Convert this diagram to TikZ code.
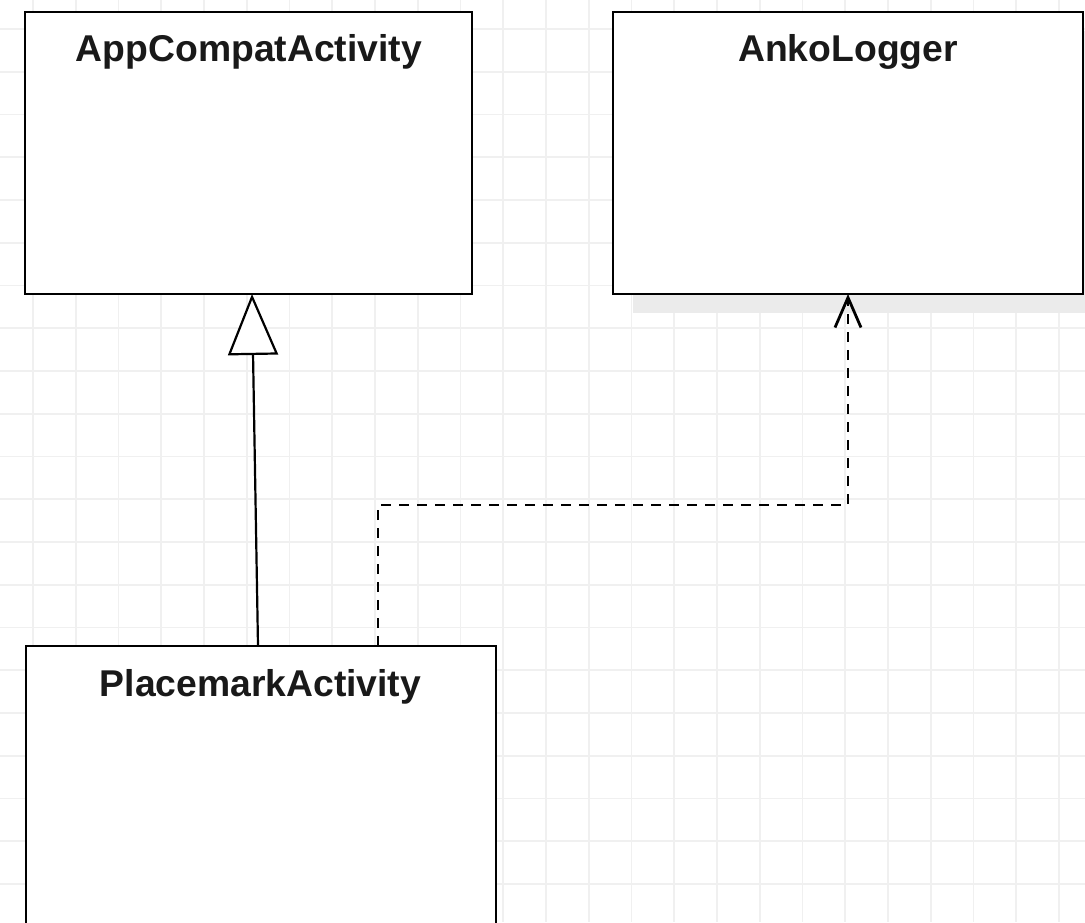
\documentclass[tikz,border=0pt]{standalone}
\usepackage{fontspec}
\setmainfont{Liberation Sans}
\usetikzlibrary{arrows.meta, calc, shadows}
\tikzset{%
    grd/.style={line width = 1.6pt, color=black!6},
    cls/.style={rectangle, draw, fill=white, line width = 2.4pt, inner sep=0pt, outer sep=0pt},
    ttl/.style={anchor=base, inner sep=0pt, font=\bfseries\fontsize{37.3}{45}\selectfont, text=black!90},
    inh/.style={line width = 2.2pt, -{Triangle[length=61pt, width=50pt, fill=white]}},
    dep/.style={line width = 2.8pt, dash pattern=on 10pt off 8pt, -{Straight Barb[length=30pt, width=26pt]}},
}
\begin{document}
\begin{tikzpicture}[x=1pt, y=-1pt]
    \clip (0,0) rectangle (1085,922);
    \fill[white] (0,0) rectangle (1085,922);
    \foreach \gx in {0,...,24} \draw[grd] (33+42.75*\gx,0) -- ++(0,922);
    \foreach \gy in {0,...,20} \draw[grd] (0,29+42.75*\gy) -- ++(1085,0);
    \node[cls, minimum width=447pt, minimum height=282pt] (app) at (248.5,153) {};
    \node[cls, minimum width=470pt, minimum height=282pt,
          drop shadow={shadow xshift=20pt, shadow yshift=-19pt, fill=black!8, opacity=1}] (anko) at (848,153) {};
    \node[cls, minimum width=470pt, minimum height=354pt] (place) at (261,823) {};
    \node[ttl] (appT) at (249,61) {AppCompatActivity};
    \node[ttl] (ankoT) at (848,61) {AnkoLogger};
    \node[ttl] (placeT) at (260.5,696) {PlacemarkActivity};
    \coordinate (bend) at (848,505);
    \draw [inh] ([xshift=-3pt]place.north) -- ([xshift=3.5pt]app.south);
    \draw [dep] ([xshift=117pt]place.north) |- (bend) -- (anko.south);
\end{tikzpicture}
\end{document}
